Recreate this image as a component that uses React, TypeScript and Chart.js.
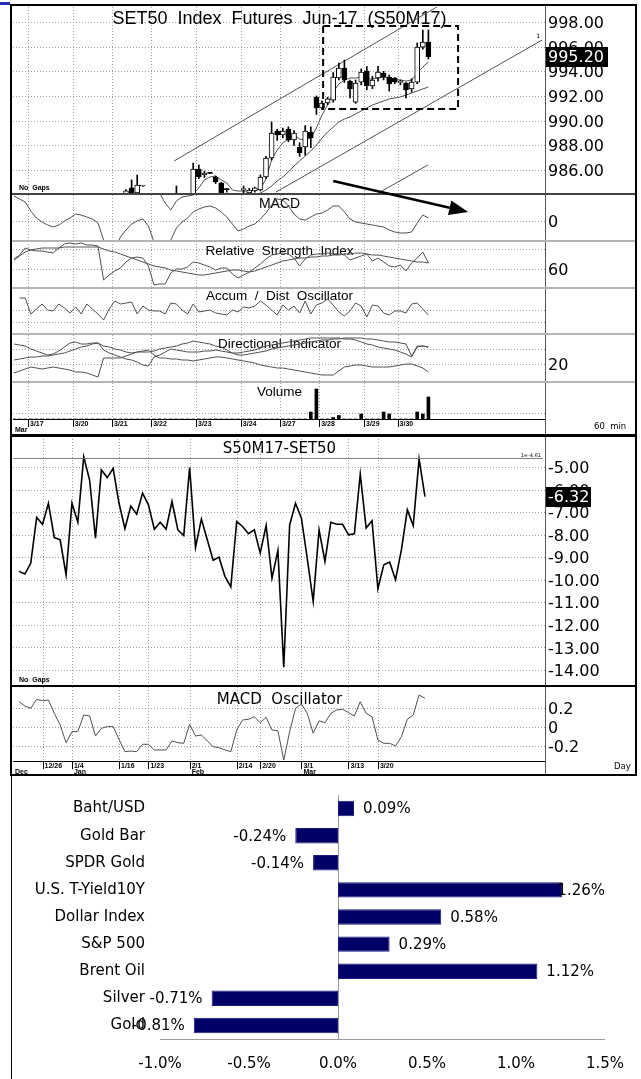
import React, { useEffect, useRef } from "react";
import { Chart, registerables } from "chart.js";

Chart.register(...registerables);

const SANS = '"DejaVu Sans", Verdana, sans-serif';
const ARIAL = '"Liberation Sans", Arial, sans-serif';

/* ---------------- 60-minute chart: SET50 Index Futures Jun-17 ---------------- */
const HOUR_DAY_TICKS = [2.5, 10.5, 17.5, 24.5, 32.5, 40.5, 47.5, 54.5, 62.5, 68.5];
const HOUR_DAY_LABELS = ["3/17", "3/20", "3/21", "3/22", "3/23", "3/24", "3/27", "3/28", "3/29", "3/30"];
const HOUR_MONTHS: [string, number][] = [["Mar", -0.18]];
const PRICE_TICKS = [986, 988, 990, 992, 994, 996, 998];
const LAST_PRICE = 995.2;

const OPEN = [981.5, 981.8, 982.2, 982.6, 982.1, 982.0, 981.8, 981.7, 981.9, 982.5,
  982.8, 982.9, 983.2, 983.0, 982.8, 982.6, 982.2, 981.0, 981.4, 982.0,
  983.6, 984.54, 984.13, 984.7, 984.0, 983.5, 983.0, 982.7, 982.9, 983.5,
  983.8, 983.6, 984.0, 986.08, 985.6, 985.75, 985.43, 984.94, 984.45, 984.0,
  983.8, 984.4, 984.13, 984.3, 984.37, 985.43, 986.97, 989.16, 988.84, 989.32,
  988.43, 987.86, 987.86, 989.08, 991.92, 991.03, 991.43, 991.67, 993.46, 994.27,
  993.21, 991.5, 993.13, 994.03, 992.81, 993.46, 993.86, 993.54, 993.46, 993.1,
  993.05, 992.57, 993.13, 995.97, 996.38];
const HIGH = [982.0, 982.4, 982.8, 982.9, 982.5, 982.3, 982.2, 982.0, 982.7, 983.0,
  983.2, 983.4, 983.3, 983.2, 983.0, 982.8, 982.3, 981.6, 982.2, 983.0,
  984.4, 985.19, 985.59, 984.75, 984.1, 983.6, 983.2, 983.0, 983.6, 984.7,
  984.0, 984.0, 986.56, 986.4, 985.9, 985.8, 985.5, 985.0, 984.5, 984.1,
  984.0, 984.7, 984.5, 984.6, 985.6, 987.1, 989.89, 989.3, 989.4, 989.5,
  989.2, 988.2, 989.6, 989.5, 992.0, 991.6, 991.9, 993.9, 994.67, 994.92,
  993.3, 993.3, 994.2, 994.4, 993.6, 994.4, 994.0, 993.7, 993.5, 993.3,
  993.1, 993.4, 996.3, 997.35, 997.35];
const LOW = [981.0, 981.5, 981.9, 982.0, 981.7, 981.6, 981.4, 981.3, 981.8, 982.3,
  982.5, 982.7, 982.8, 982.6, 982.4, 982.0, 980.8, 980.6, 981.2, 981.8,
  983.4, 983.9, 983.9, 984.65, 983.3, 982.8, 982.5, 982.4, 982.8, 983.4,
  983.3, 983.4, 983.9, 985.3, 985.4, 985.7, 984.9, 983.9, 984.2, 983.6,
  983.5, 984.0, 984.0, 984.2, 984.3, 985.3, 986.8, 988.4, 988.6, 988.3,
  988.0, 987.1, 987.2, 987.8, 990.5, 990.9, 991.3, 991.5, 993.3, 993.1,
  991.84, 991.4, 992.9, 992.5, 992.6, 993.2, 993.3, 992.4, 993.0, 992.9,
  991.84, 992.3, 993.0, 995.8, 995.0];
const CLOSE = [981.8, 982.2, 982.6, 982.1, 982.0, 981.8, 981.7, 981.9, 982.5, 982.8,
  982.9, 983.2, 983.0, 982.8, 982.6, 982.2, 981.0, 981.4, 982.0, 982.8,
  984.3, 984.13, 984.78, 984.72, 983.5, 983.0, 982.7, 982.9, 983.5, 983.8,
  983.6, 983.9, 986.08, 985.43, 985.75, 985.72, 985.02, 984.0, 984.4, 983.8,
  983.9, 984.42, 984.37, 984.54, 985.43, 986.97, 989.0, 988.84, 989.16, 988.43,
  989.0, 987.38, 989.16, 988.6, 991.03, 991.43, 991.76, 993.54, 994.27, 993.3,
  992.57, 993.05, 993.94, 992.81, 993.3, 993.94, 993.54, 992.97, 993.13, 993.2,
  992.49, 993.13, 995.97, 996.38, 995.2];

const MA_FAST_START = 32;
const MA_FAST = [984.05, 984.54, 985.19, 985.43, 985.51, 985.19, 984.94, 984.37, 984.29, 984.29,
  984.29, 984.37, 984.46, 985.27, 986.81, 987.62, 988.19, 988.51, 988.84, 988.51,
  988.43, 988.59, 989.4, 990.46, 991.27, 992.32, 992.97, 993.3, 993.46, 993.46,
  993.54, 993.38, 993.38, 993.46, 993.54, 993.46, 993.3, 993.3, 993.21, 993.3,
  993.86, 994.35, 994.76];
const MA_SLOW_START = 43;
const MA_SLOW = [983.97, 984.13, 984.37, 984.7, 985.1, 985.43, 985.84, 986.32, 986.73, 987.13,
  987.54, 988.02, 988.59, 989.08, 989.48, 989.89, 990.13, 990.3, 990.54, 990.78,
  991.03, 991.27, 991.43, 991.59, 991.76, 991.84, 991.92, 992.08, 992.24, 992.4,
  992.57, 992.73];

// trend lines: [x1 bar, price1, x2 bar, price2]
const TREND_LINES = [
  [28.6, 986.73, 76.4, 999.46],
  [46.8, 984.21, 94.3, 996.54],
  [65.4, 984.21, 73.9, 986.4],
];
const FOCUS_BOX = [55.2, 997.68, 79.3, 990.94];
const ARROW = [57, 985.1, 81.1, 982.59];

const MACD_LINE = [2.5, 2.2, 1.9, 1.0, 0.3, -0.1, -0.4, -0.6, -0.4, 0,
  0.3, 0.7, 0.6, 0.4, 0.2, -0.2, -1.9, -3.1, -2.9, -1.6,
  -0.9, -0.3, 0, 0.2, -0.5, -2.1, -3.4, -2.9, -1.9, -0.7,
  -0.1, 0.3, 0.9, 1.2, 1.4, 1.5, 1.3, 0.9, 0.4, -0.3,
  -1.0, -0.8, -0.5, -0.3, 0.2, 0.8, 1.6, 2.2, 2.1, 1.5,
  0.7, 0.2, 0.1, 0.4, 0.7, 0.8, 1.1, 1.5, 1.5, 0.9,
  0.2, -0.1, -0.2, -0.3, -0.4, -0.5, -0.6, -0.9, -1.1, -1.2,
  -1.2, -1.1, -0.2, 0.6, 0.3];
const MACD_SIGNAL_START = 25;
const MACD_SIGNAL = [3.3, 2.8, 1.8, 1.1, 2.0, 2.4, 2.5, 2.6, 3.1];

const RSI = [70, 74, 81, 79, 78, 78, 77, 76, 81, 85,
  86, 85, 86, 84, 84, 83, 49, 54, 58, 61,
  67, 71, 72, 71, 63, 44, 45, 45, 56, 60,
  60, 62, 67, 66, 64, 62, 59, 61, 61, 55,
  51, 54, 57, 61, 65, 70, 74, 75, 76, 75,
  71, 63, 70, 74, 75, 75, 76, 75, 75, 74,
  69, 71, 73, 75, 68, 71, 67, 63, 62, 64,
  58, 66, 71, 77, 66];
const RSI_AVG = [69, 73, 77, 79, 80, 81, 81, 81, 81, 82,
  82, 82, 82, 82, 82, 82, 80, 78, 77, 75,
  73, 71, 69, 67, 65, 63, 62, 61, 59, 58,
  57, 56, 55, 54, 54, 55, 56, 57, 58, 59,
  59, 58, 57, 58, 60, 62, 64, 66, 68, 69,
  70, 71, 71, 72, 72, 73, 73, 74, 74, 75,
  75, 76, 76, 75, 74, 74, 73, 72, 71, 70,
  69, 68, 67, 67, 66];

const AD_START = 1;
const AD_OSC = [12, 12, -4, 1, 6, 0, -1, 6, 2, -3,
  3, -4, 6, 1, -4, -10, 1, 9, 6, 7,
  8, -4, 4, 0, -1, -1, -4, 7, 6, 0,
  -4, 6, -2, -1, 0, -3, -4, -5, 0, -2,
  3, 2, 4, 9, 5, 0, -5, 5, 0, 4,
  -3, 9, -4, 5, 7, 11, 5, -2, -6, -1,
  7, 4, -7, 5, 4, -3, -5, -1, -1, -3,
  6, 7, 1, -5];

const DI_A = [11, 13, 15, 17, 16, 15, 16, 17, 16, 15,
  14, 12, 12, 11, 9, 7, 26, 26, 26, 26,
  28, 30, 32, 32, 32, 33, 35, 36, 37, 38,
  40, 41, 43, 42, 41, 40, 38, 37, 34, 31,
  29, 29, 30, 31, 32, 33, 35, 36, 37, 38,
  39, 40, 41, 42, 43, 44, 44, 45, 45, 46,
  46, 46, 46, 45, 45, 44, 43, 42, 42, 41,
  40, 28, 38, 38, 37];
const DI_B = [40, 39, 38, 35, 33, 31, 29, 30, 33, 37,
  41, 42, 40, 40, 41, 41, 34, 31, 29, 27,
  25, 24, 22, 19, 18, 27, 29, 32, 35, 34,
  33, 32, 32, 32, 33, 33, 34, 33, 32, 31,
  31, 32, 33, 34, 36, 38, 39, 40, 41, 42,
  43, 44, 45, 46, 46, 46, 46, 46, 46, 45,
  45, 44, 42, 40, 39, 37, 36, 35, 34, 32,
  30, 27, 37, 38, 37];
const DI_C = [24, 25, 26, 27, 27, 28, 28, 29, 30, 31,
  33, 35, 37, 38, 40, 41, 38, 37, 35, 34,
  32, 31, 32, 33, 34, 29, 26, 26, 25, 25,
  24, 24, 23, 24, 25, 26, 27, 27, 26, 25,
  24, 23, 22, 21, 19, 18, 17, 16, 16, 15,
  14, 13, 12, 11, 10, 9, 9, 9, 13, 17,
  18, 19, 19, 18, 17, 17, 17, 17, 18, 19,
  20, 20, 18, 16, 12];

const VOLUME = [0, 0, 0, 0, 0, 0, 0, 0, 0, 0,
  0, 0, 0, 0, 0, 0, 0, 0, 0, 0,
  0, 0, 0, 0, 0, 0, 0, 0, 0, 0,
  0, 0, 0, 0, 0, 0, 0, 0, 0, 0,
  0, 0, 0, 0, 0, 0, 0, 0, 0, 0,
  0, 0, 0, 70, 300, 0, 0, 15, 35, 0,
  0, 0, 50, 0, 0, 0, 70, 50, 0, 0,
  0, 0, 70, 50, 220];

/* ---------------- Daily chart: S50M17 - SET50 basis ---------------- */
const DAY_TICKS = [4, 9, 17, 22, 29, 37, 41, 48, 56, 61];
const DAY_LABELS = ["12/26", "1/4", "1/16", "1/23", "2/1", "2/14", "2/20", "3/1", "3/13", "3/20"];
const DAY_MONTHS: [string, number][] = [["Dec", -1.02], ["Jan", 9], ["Feb", 29], ["Mar", 48]];
const BASIS_TICKS = [-14, -13, -12, -11, -10, -9, -8, -7, -6, -5];
const BASIS_REF = -4.61;
const BASIS_LAST = -6.32;
const BASIS = [-9.63, -9.75, -9.26, -7.24, -7.54, -6.61, -8.13, -8.23, -9.78, -6.61,
  -7.45, -4.55, -5.58, -8.16, -5.13, -5.47, -5.06, -6.61, -7.74, -6.73,
  -7.09, -6.16, -6.68, -7.76, -7.45, -7.76, -6.53, -7.79, -8.04, -5.03,
  -8.57, -7.31, -8.23, -9.14, -9.0, -9.85, -10.32, -7.42, -7.64, -7.96,
  -7.79, -8.82, -7.6, -9.93, -8.7, -13.88, -7.57, -6.61, -7.27, -9.07,
  -10.96, -7.79, -9.19, -7.45, -7.54, -7.54, -8.01, -7.96, -5.32, -7.71,
  -7.39, -10.4, -9.34, -9.22, -10.0, -8.67, -6.9, -7.6, -4.65, -6.32];
const OSC_TICKS = [0.2, 0, -0.2];
const MACD_OSC = [0.266, 0.22, 0.197, 0.29, 0.277, 0.284, 0.144, 0.021, -0.165, -0.049,
  -0.049, 0.126, 0.116, -0.095, -0.014, 0.004, 0.004, -0.13, -0.26, -0.253,
  -0.26, -0.182, -0.182, -0.242, -0.242, -0.242, -0.147, -0.165, -0.172, 0.028,
  -0.095, -0.084, -0.147, -0.207, -0.218, -0.242, -0.26, -0.032, 0.074, 0.081,
  0.108, 0.045, 0.102, -0.032, -0.039, -0.347, -0.049, 0.197, 0.242, 0.144,
  -0.066, 0.066, 0.045, 0.144, 0.179, 0.186, 0.151, 0.116, 0.266, 0.144,
  0.108, -0.137, -0.172, -0.172, -0.2, -0.102, 0.081, 0.126, 0.337, 0.302];

/* ---------------- Daily change of markets ---------------- */
const MARKETS = ["Baht/USD", "Gold Bar", "SPDR Gold", "U.S. T-Yield10Y", "Dollar Index", "S&P 500", "Brent Oil", "Silver", "Gold"];
const CHANGES = [0.09, -0.24, -0.14, 1.26, 0.58, 0.29, 1.12, -0.71, -0.81];
const CHANGE_TICKS = [-1, -0.5, 0, 0.5, 1, 1.5];

/* ---------------- helpers ---------------- */
const HOUR_X: [number, number] = [-0.18, 94.82];
const DAY_X: [number, number] = [-1.02, 89.4];

function pts(start: number, values: (number | null)[]) {
  return values.map((v, k) => ({ x: start + k, y: v }));
}

function lineDS(start: number, values: number[], extra: any = {}) {
  return {
    type: "line",
    data: pts(start, values),
    borderColor: "#505050",
    borderWidth: 1,
    pointRadius: 0,
    tension: 0,
    order: 5,
    ...extra,
  };
}

function drawDates(chart: any, ticks: number[], labels: string[], months: [string, number][]) {
  const { ctx, chartArea: a } = chart;
  const xs = chart.scales.x;
  ctx.strokeStyle = "#000";
  ctx.lineWidth = 1;
  ctx.beginPath();
  ctx.moveTo(a.left, a.bottom + 0.5);
  ctx.lineTo(a.right, a.bottom + 0.5);
  ticks.forEach((t) => {
    const p = Math.round(xs.getPixelForValue(t)) + 0.5;
    ctx.moveTo(p, a.bottom);
    ctx.lineTo(p, a.bottom + 8);
  });
  ctx.stroke();
  ctx.fillStyle = "#000";
  ctx.font = `bold 7px ${ARIAL}`;
  ctx.textAlign = "left";
  ctx.textBaseline = "alphabetic";
  ticks.forEach((t, i) => ctx.fillText(labels[i], xs.getPixelForValue(t) + 2, a.bottom + 7));
  months.forEach(([m, t]) => ctx.fillText(m, xs.getPixelForValue(t) + 2, a.bottom + 12.5));
}

function valueBox(chart: any, value: number, text: string, w: number) {
  const { ctx, chartArea: a } = chart;
  const py = chart.scales.y.getPixelForValue(value);
  ctx.fillStyle = "#000";
  ctx.fillRect(a.right + 1, Math.round(py) - 10, w, 20);
  ctx.fillStyle = "#fff";
  ctx.font = `16px ${SANS}`;
  ctx.textAlign = "left";
  ctx.textBaseline = "middle";
  ctx.fillText(text, a.right + 3, py + 1);
}

function decor(spec: any) {
  return {
    id: "decor",
    beforeDatasetsDraw(chart: any) {
      const { ctx, chartArea: a } = chart;
      const xs = chart.scales.x;
      const ys = chart.scales.y;
      ctx.save();
      ctx.strokeStyle = "#a0a0a0";
      ctx.lineWidth = 1;
      ctx.setLineDash([1, 2]);
      ctx.beginPath();
      (spec.vLines || []).forEach((v: number) => {
        const p = Math.round(xs.getPixelForValue(v)) + 0.5;
        ctx.moveTo(p, a.top);
        ctx.lineTo(p, a.bottom);
      });
      (spec.hLines || []).forEach((v: number) => {
        const p = Math.round(ys.getPixelForValue(v)) + 0.5;
        ctx.moveTo(a.left, p);
        ctx.lineTo(a.right, p);
      });
      ctx.stroke();
      ctx.setLineDash([]);
      if (spec.title) {
        ctx.font = spec.titleFont;
        ctx.fillStyle = "#000";
        ctx.textAlign = "center";
        ctx.textBaseline = "alphabetic";
        ctx.fillText(spec.title, 279.5, a.top + spec.titleDy);
      }
      ctx.restore();
    },
    afterDraw(chart: any) {
      if (spec.after) {
        chart.ctx.save();
        spec.after(chart);
        chart.ctx.restore();
      }
    },
  };
}

function makePanel(canvas: HTMLCanvasElement, p: any) {
  return new Chart(canvas, {
    type: "bar",
    data: { datasets: p.datasets },
    options: {
      responsive: true,
      maintainAspectRatio: false,
      animation: false,
      events: [],
      layout: { padding: p.pad },
      plugins: { legend: { display: false }, tooltip: { enabled: false } },
      scales: {
        x: { type: "linear", min: p.x[0], max: p.x[1], display: false, offset: false },
        y: {
          type: "linear",
          position: "right",
          min: p.y[0],
          max: p.y[1],
          afterFit: (s: any) => {
            s.width = 91;
            s.paddingTop = 0;
            s.paddingBottom = 0;
          },
          afterBuildTicks: (s: any) => {
            s.ticks = p.yTicks.map((v: number) => ({ value: v }));
          },
          grid: { display: false, drawTicks: false },
          border: { display: false },
          ticks: {
            autoSkip: false,
            padding: 3,
            labelOffset: 2,
            color: "#000",
            font: { family: SANS, size: 16 },
            callback: p.fmt || ((v: any) => String(v)),
          },
        },
      },
    } as any,
    plugins: [decor(p)],
  } as any);
}

const fmt2 = (v: any) => Number(v).toFixed(2);
const PANEL_PAD = { left: 13, right: 5, top: 0, bottom: 0 };

function buildCharts(c: (HTMLCanvasElement | null)[]) {
  const charts: Chart[] = [];
  const bodyColors = OPEN.map((o, i) => (CLOSE[i] >= o ? "#ffffff" : "#000000"));

  // price panel
  charts.push(
    makePanel(c[0]!, {
      pad: { left: 13, right: 5, top: 7, bottom: 23 },
      x: HOUR_X,
      y: [984.13, 999.22],
      yTicks: PRICE_TICKS,
      fmt: fmt2,
      vLines: HOUR_DAY_TICKS,
      hLines: PRICE_TICKS,
      title: "SET50  Index  Futures  Jun-17  (S50M17)",
      titleFont: `18px ${ARIAL}`,
      titleDy: 17,
      datasets: [
        {
          type: "bar",
          data: OPEN.map((o, i) => ({ x: i, y: [o, CLOSE[i]] })),
          backgroundColor: bodyColors,
          borderColor: "#000",
          borderWidth: 1,
          borderSkipped: false,
          barThickness: 5,
          minBarLength: 1,
          grouped: false,
          order: 0,
        },
        {
          type: "bar",
          data: LOW.map((l, i) => ({ x: i, y: [l, HIGH[i]] })),
          backgroundColor: "#000",
          borderWidth: 0,
          barThickness: 1,
          grouped: false,
          order: 1,
        },
        lineDS(MA_FAST_START, MA_FAST),
        lineDS(MA_SLOW_START, MA_SLOW),
        ...TREND_LINES.map((t) => ({
          type: "line",
          data: [
            { x: t[0], y: t[1] },
            { x: t[2], y: t[3] },
          ],
          borderColor: "#505050",
          borderWidth: 1,
          pointRadius: 0,
          order: 6,
        })),
      ],
      after: (chart: any) => {
        const { ctx, chartArea: a } = chart;
        const xs = chart.scales.x;
        const ys = chart.scales.y;
        // dashed focus box
        ctx.save();
        ctx.beginPath();
        ctx.rect(a.left, a.top, a.right - a.left, a.bottom - a.top);
        ctx.clip();
        ctx.strokeStyle = "#000";
        ctx.lineWidth = 2;
        ctx.setLineDash([7, 4]);
        const bx1 = xs.getPixelForValue(FOCUS_BOX[0]);
        const by1 = ys.getPixelForValue(FOCUS_BOX[1]);
        const bx2 = xs.getPixelForValue(FOCUS_BOX[2]);
        const by2 = ys.getPixelForValue(FOCUS_BOX[3]);
        ctx.strokeRect(bx1, by1, bx2 - bx1, by2 - by1);
        ctx.restore();
        // arrow
        const x1 = xs.getPixelForValue(ARROW[0]);
        const y1 = ys.getPixelForValue(ARROW[1]);
        const x2 = xs.getPixelForValue(ARROW[2]);
        const y2 = ys.getPixelForValue(ARROW[3]);
        const ang = Math.atan2(y2 - y1, x2 - x1);
        const head = 19;
        const half = 7.5;
        const hx = x2 - head * Math.cos(ang);
        const hy = y2 - head * Math.sin(ang);
        ctx.strokeStyle = "#000";
        ctx.lineWidth = 2.5;
        ctx.beginPath();
        ctx.moveTo(x1, y1);
        ctx.lineTo(hx, hy);
        ctx.stroke();
        ctx.fillStyle = "#000";
        ctx.beginPath();
        ctx.moveTo(x2, y2);
        ctx.lineTo(hx + half * Math.sin(ang), hy - half * Math.cos(ang));
        ctx.lineTo(hx - half * Math.sin(ang), hy + half * Math.cos(ang));
        ctx.closePath();
        ctx.fill();
        // small markers
        ctx.font = `6px ${SANS}`;
        ctx.fillStyle = "#000";
        ctx.textAlign = "center";
        ctx.fillText("1", xs.getPixelForValue(TREND_LINES[1][2]) - 4, ys.getPixelForValue(TREND_LINES[1][3]) - 2);
        ctx.font = `bold 7px ${ARIAL}`;
        ctx.textAlign = "left";
        ctx.fillText("No  Gaps", a.left + 6, a.bottom - 3);
        valueBox(chart, LAST_PRICE, "995.20", 62);
      },
    })
  );

  // MACD
  charts.push(
    makePanel(c[1]!, {
      pad: PANEL_PAD,
      x: HOUR_X,
      y: [-1.9, 2.6],
      yTicks: [0],
      vLines: HOUR_DAY_TICKS,
      hLines: [0],
      title: "MACD",
      titleFont: `14px ${ARIAL}`,
      titleDy: 13,
      datasets: [lineDS(0, MACD_LINE), lineDS(MACD_SIGNAL_START, MACD_SIGNAL)],
    })
  );

  // RSI
  charts.push(
    makePanel(c[2]!, {
      pad: PANEL_PAD,
      x: HOUR_X,
      y: [42, 88],
      yTicks: [60],
      vLines: HOUR_DAY_TICKS,
      hLines: [60, 80],
      title: "Relative  Strength  Index",
      titleFont: `13.5px ${ARIAL}`,
      titleDy: 14,
      datasets: [lineDS(0, RSI), lineDS(0, RSI_AVG)],
    })
  );

  // Accum / Dist
  charts.push(
    makePanel(c[3]!, {
      pad: PANEL_PAD,
      x: HOUR_X,
      y: [-23, 22],
      yTicks: [],
      vLines: HOUR_DAY_TICKS,
      hLines: [0, -12],
      title: "Accum  /  Dist  Oscillator",
      titleFont: `13.5px ${ARIAL}`,
      titleDy: 12,
      datasets: [lineDS(AD_START, AD_OSC)],
    })
  );

  // Directional indicator
  charts.push(
    makePanel(c[4]!, {
      pad: PANEL_PAD,
      x: HOUR_X,
      y: [2, 49],
      yTicks: [20],
      vLines: HOUR_DAY_TICKS,
      hLines: [20, 35],
      title: "Directional  Indicator",
      titleFont: `13.5px ${ARIAL}`,
      titleDy: 13,
      datasets: [lineDS(0, DI_A), lineDS(0, DI_B), lineDS(0, DI_C)],
    })
  );

  // Volume + date axis
  charts.push(
    makePanel(c[5]!, {
      pad: { left: 13, right: 5, top: 0, bottom: 16 },
      x: HOUR_X,
      y: [0, 360],
      yTicks: [],
      vLines: HOUR_DAY_TICKS,
      hLines: [60],
      title: "Volume",
      titleFont: `13.5px ${ARIAL}`,
      titleDy: 13,
      datasets: [
        {
          type: "bar",
          data: pts(0, VOLUME),
          backgroundColor: "#000",
          borderWidth: 0,
          barThickness: 3,
          grouped: false,
        },
      ],
      after: (chart: any) => {
        drawDates(chart, HOUR_DAY_TICKS, HOUR_DAY_LABELS, HOUR_MONTHS);
        const { ctx, chartArea: a } = chart;
        ctx.font = `8.5px ${SANS}`;
        ctx.fillStyle = "#000";
        ctx.textAlign = "left";
        ctx.fillText("60  min", 594, a.bottom + 10);
      },
    })
  );

  // S50M17-SET50 basis
  charts.push(
    makePanel(c[6]!, {
      pad: { left: 13, right: 5, top: 1, bottom: 3 },
      x: DAY_X,
      y: [-14.58, -3.76],
      yTicks: BASIS_TICKS,
      fmt: fmt2,
      vLines: DAY_TICKS,
      hLines: BASIS_TICKS,
      title: "S50M17-SET50",
      titleFont: `15px ${SANS}`,
      titleDy: 14,
      datasets: [lineDS(0, BASIS, { borderColor: "#000", borderWidth: 1.6 })],
      after: (chart: any) => {
        const { ctx, chartArea: a } = chart;
        const py = Math.round(chart.scales.y.getPixelForValue(BASIS_REF)) + 0.5;
        ctx.strokeStyle = "#808080";
        ctx.lineWidth = 1;
        ctx.beginPath();
        ctx.moveTo(a.left, py);
        ctx.lineTo(a.right - 2, py);
        ctx.stroke();
        ctx.fillStyle = "#000";
        ctx.font = `5px ${SANS}`;
        ctx.textAlign = "right";
        ctx.textBaseline = "alphabetic";
        ctx.fillText("1=-4.61", a.right - 4, py - 2);
        ctx.font = `bold 7px ${ARIAL}`;
        ctx.textAlign = "left";
        ctx.fillText("No  Gaps", a.left + 6, a.bottom - 1);
        valueBox(chart, BASIS_LAST, "-6.32", 45);
      },
    })
  );

  // MACD oscillator (daily)
  charts.push(
    makePanel(c[7]!, {
      pad: { left: 13, right: 5, top: 0, bottom: 14 },
      x: DAY_X,
      y: [-0.358, 0.421],
      yTicks: OSC_TICKS,
      fmt: (v: any) => (Number(v) === 0 ? "0" : Number(v).toFixed(1)),
      vLines: DAY_TICKS,
      hLines: OSC_TICKS,
      title: "MACD  Oscillator",
      titleFont: `15px ${SANS}`,
      titleDy: 17,
      datasets: [lineDS(0, MACD_OSC)],
      after: (chart: any) => {
        drawDates(chart, DAY_TICKS, DAY_LABELS, DAY_MONTHS);
        const { ctx, chartArea: a } = chart;
        ctx.font = `8.5px ${SANS}`;
        ctx.fillStyle = "#000";
        ctx.textAlign = "left";
        ctx.fillText("Day", 614, a.bottom + 8);
      },
    })
  );

  // horizontal bar chart of daily changes
  charts.push(
    new Chart(c[8]!, {
      type: "bar",
      data: {
        labels: MARKETS,
        datasets: [
          {
            data: CHANGES,
            backgroundColor: "#000066",
            borderColor: "#1a1a80",
            borderWidth: 1,
            borderSkipped: false,
            categoryPercentage: 0.57,
            barPercentage: 1,
          },
        ],
      },
      options: {
        indexAxis: "y",
        responsive: true,
        maintainAspectRatio: false,
        animation: false,
        events: [],
        layout: { padding: { left: 0, right: 36, top: 19, bottom: 0 } },
        plugins: { legend: { display: false }, tooltip: { enabled: false } },
        scales: {
          x: {
            type: "linear",
            min: -1,
            max: 1.5,
            afterFit: (s: any) => {
              s.height = 40;
            },
            afterBuildTicks: (s: any) => {
              s.ticks = CHANGE_TICKS.map((v) => ({ value: v }));
            },
            grid: { display: false, drawTicks: false },
            border: { display: false },
            ticks: {
              autoSkip: false,
              maxRotation: 0,
              padding: 16,
              color: "#000",
              font: { family: SANS, size: 15 },
              callback: (v: any) => Number(v).toFixed(1) + "%",
            },
          },
          y: {
            afterFit: (s: any) => {
              s.width = 160;
              s.paddingTop = 0;
              s.paddingBottom = 0;
            },
            grid: { display: false, drawTicks: false },
            border: { display: false },
            ticks: { autoSkip: false, padding: 15, color: "#000", font: { family: SANS, size: 15 } },
          },
        },
      } as any,
      plugins: [
        {
          id: "barDecor",
          beforeDatasetsDraw(chart: any) {
            const { ctx, chartArea: a } = chart;
            const px = Math.round(chart.scales.x.getPixelForValue(0)) + 0.5;
            ctx.save();
            ctx.strokeStyle = "#9a9a9a";
            ctx.lineWidth = 1;
            ctx.beginPath();
            ctx.moveTo(px, a.top);
            ctx.lineTo(px, a.bottom);
            ctx.moveTo(a.left, a.bottom + 0.5);
            ctx.lineTo(a.right, a.bottom + 0.5);
            ctx.stroke();
            ctx.restore();
          },
          afterDatasetsDraw(chart: any) {
            const { ctx, chartArea: a } = chart;
            const meta = chart.getDatasetMeta(0);
            ctx.save();
            ctx.font = `15px ${SANS}`;
            ctx.fillStyle = "#000";
            ctx.textBaseline = "middle";
            meta.data.forEach((bar: any, i: number) => {
              const v = CHANGES[i];
              const t = v.toFixed(2) + "%";
              const w = ctx.measureText(t).width;
              if (v >= 0) {
                let lx = bar.x + 9;
                if (lx + w > a.right) lx = a.right - w;
                ctx.textAlign = "left";
                ctx.fillText(t, lx, bar.y + 1);
              } else {
                ctx.textAlign = "right";
                ctx.fillText(t, bar.x - 9, bar.y + 1);
              }
            });
            ctx.restore();
          },
        },
      ],
    } as any)
  );

  return charts;
}

// page layout (canvas slots) and frame rules
const SLOTS = [
  { top: 0, h: 216, z: 3 },
  { top: 195, h: 45, z: 1 },
  { top: 241, h: 46, z: 1 },
  { top: 288, h: 45, z: 1 },
  { top: 335, h: 47, z: 1 },
  { top: 383, h: 52, z: 1 },
  { top: 438, h: 248, z: 1 },
  { top: 687, h: 88, z: 1 },
  { top: 776, h: 303, z: 1 },
];

const RULES: [number, number, number, number, string][] = [
  [0, 2, 10, 3, "#2a2ab8"],
  [10, 4, 627, 2, "#000"],
  [10, 4, 2, 772, "#000"],
  [635, 4, 2, 772, "#000"],
  [545, 6, 1, 429, "#555"],
  [12, 193, 623, 2, "#444"],
  [12, 240, 623, 2, "#b4b4b4"],
  [12, 287, 623, 2, "#b4b4b4"],
  [12, 333, 623, 2, "#b4b4b4"],
  [12, 381, 623, 2, "#b4b4b4"],
  [10, 434, 627, 3, "#000"],
  [545, 437, 1, 338, "#555"],
  [12, 685, 623, 2, "#000"],
  [10, 774, 627, 2, "#000"],
  [11, 776, 1, 303, "#000"],
];

export default function App() {
  const refs = useRef<(HTMLCanvasElement | null)[]>([]);

  useEffect(() => {
    const charts = buildCharts(refs.current);
    return () => charts.forEach((ch) => ch.destroy());
  }, []);

  return (
    <div
      style={{
        position: "absolute",
        left: 0,
        top: 0,
        width: 641,
        height: 1079,
        background: "#fff",
        overflow: "hidden",
      }}
    >
      {SLOTS.map((s, i) => (
        <div
          key={"c" + i}
          style={{ position: "absolute", left: 0, top: s.top, width: 641, height: s.h, zIndex: s.z }}
        >
          <canvas
            ref={(el) => {
              refs.current[i] = el;
            }}
          />
        </div>
      ))}
      {RULES.map((r, i) => (
        <div
          key={"r" + i}
          style={{
            position: "absolute",
            left: r[0],
            top: r[1],
            width: r[2],
            height: r[3],
            background: r[4],
            zIndex: 2,
          }}
        />
      ))}
    </div>
  );
}
